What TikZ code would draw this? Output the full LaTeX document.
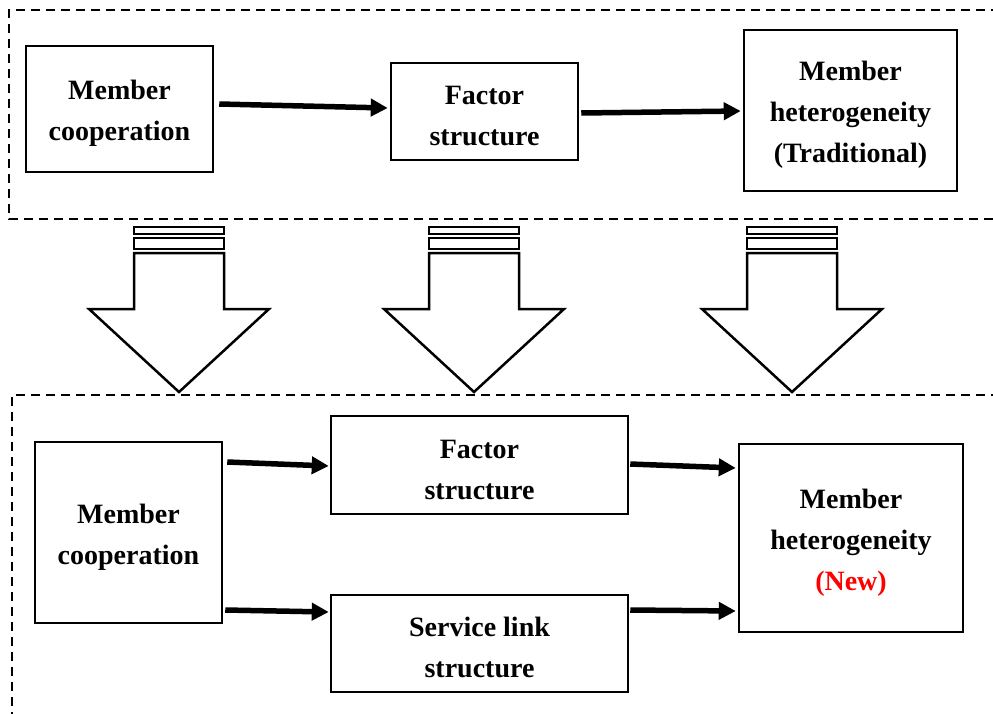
\documentclass[tikz,border=0pt]{standalone}
\usepackage{fontspec}
\setmainfont{Liberation Serif}
\usetikzlibrary{arrows.meta}
\newcommand{\lift}{\rule{0pt}{28pt}}
\tikzset{
  box/.style={draw, line width=2.5pt, align=center, inner sep=0pt,
    font=\bfseries\fontsize{28}{41}\selectfont},
  flow/.style={line width=5.5pt, -{Triangle[length=17pt,width=17pt]}},
  frame/.style={line width=2.5pt, dash pattern=on 9pt off 6pt},
  bigarrow/.style={line width=2.5pt, line join=miter}
}
\begin{document}
\begin{tikzpicture}[x=1pt,y=-1pt]
    \useasboundingbox (0,0) rectangle (993,713);
    \draw[frame] (1000,10) -- (9,10) -- (9,219) -- (1000,219);
    \draw[frame] (1000,395) -- (12,395) -- (12,720);
    \node[box, minimum width=187, minimum height=126] (a1) at (119.5,109) {\lift Member\\cooperation};
    \node[box, minimum width=187, minimum height=97] (a2) at (484.5,111.5) {\lift Factor\\structure};
    \node[box, minimum width=213, minimum height=161] (a3) at (850.5,110.5) {\lift Member\\heterogeneity\\(Traditional)};
    \draw[flow] ([shift={(5,-5)}]a1.east) -- ([shift={(-2,-3.5)}]a2.west);
    \draw[flow] ([shift={(2,1.5)}]a2.east) -- ([shift={(-2,0.5)}]a3.west);
    \foreach \cx in {179,474,792} {
      \draw[bigarrow] (\cx-45,227) rectangle (\cx+45,234);
      \draw[bigarrow] (\cx-45,238) rectangle (\cx+45,249);
      \draw[bigarrow] (\cx-45,253) -- (\cx+45,253) -- (\cx+45,309) -- (\cx+90,309)
        -- (\cx,392) -- (\cx-90,309) -- (\cx-45,309) -- cycle;
    }
    \node[box, minimum width=187, minimum height=181] (b1) at (128.5,532.5) {\lift Member\\cooperation};
    \node[box, minimum width=297, minimum height=98] (b2) at (479.5,465) {\lift Factor\\structure};
    \node[box, minimum width=297, minimum height=97] (b3) at (479.5,643.5) {\lift Service link\\structure};
    \node[box, minimum width=224, minimum height=188] (b4) at (851,538) {\lift Member\\heterogeneity\\\textcolor{red}{(New)}};
    \draw[flow] ([shift={(4,-70.5)}]b1.east) -- ([shift={(-1,1)}]b2.west);
    \draw[flow] ([shift={(2,77.5)}]b1.east) -- ([shift={(-1,-31.5)}]b3.west);
    \draw[flow] ([shift={(1,-1)}]b2.east) -- ([shift={(-2,-70)}]b4.west);
    \draw[flow] ([shift={(1,-33.5)}]b3.east) -- ([shift={(-2,73)}]b4.west);
  \end{tikzpicture}
\end{document}
